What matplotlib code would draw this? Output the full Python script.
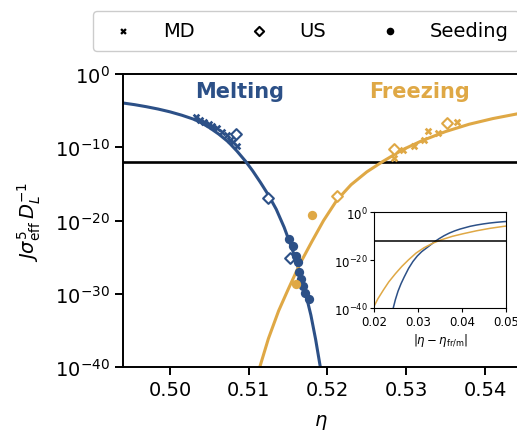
import matplotlib
matplotlib.use("Agg")
import matplotlib.pyplot as plt
import numpy as np

blue = '#2c5087'
orange = '#dfa845'

# theory curves, main panel (eta, log10 of rate)
melt_eta = [0.4940, 0.4955, 0.4970, 0.4985, 0.5000, 0.5015, 0.5030, 0.5038, 0.5050,
            0.5062, 0.5074, 0.5085, 0.5096, 0.5105, 0.5115, 0.5125, 0.5135, 0.5145,
            0.5155, 0.5165, 0.5172, 0.5179, 0.5185, 0.5191, 0.5197]
melt_log = [-3.95, -4.18, -4.46, -4.78, -5.16, -5.62, -6.16, -6.55, -7.3,
            -8.2, -9.25, -10.5, -11.9, -13.2, -14.8, -16.5, -18.45, -20.9,
            -23.8, -27.1, -29.8, -32.9, -36.2, -40.0, -44.1]

freeze_eta = [0.5100, 0.5114, 0.5125, 0.5138, 0.5150, 0.5165, 0.5180, 0.5195, 0.5212,
              0.5230, 0.5250, 0.5270, 0.5295, 0.5320, 0.5350, 0.5380, 0.5410, 0.5450]
freeze_log = [-45.9, -40.0, -36.1, -32.3, -29.4, -25.9, -22.9, -20.0, -17.2,
              -15.1, -13.35, -11.95, -10.35, -9.1, -7.85, -6.85, -6.08, -5.25]

# simulation points
melt_md_eta = [0.5033, 0.5038, 0.5043, 0.5049, 0.5054, 0.5060, 0.5066, 0.5072, 0.5076, 0.5080, 0.5085]
melt_md_log = [-5.9, -6.23, -6.5, -6.8, -7.1, -7.4, -7.95, -8.3, -8.95, -9.3, -9.8]
melt_us_eta = [0.5084, 0.5125, 0.5152]
melt_us_log = [-8.2, -16.95, -25.1]
melt_seed_eta = [0.5151, 0.5156, 0.5160, 0.5163, 0.5164, 0.5166, 0.5169, 0.5172, 0.5176]
melt_seed_log = [-22.5, -23.5, -24.8, -25.6, -27.05, -27.9, -28.9, -29.9, -30.7]

freeze_md_eta = [0.5284, 0.5296, 0.5310, 0.5322, 0.5328, 0.5340, 0.5365]
freeze_md_log = [-11.5, -10.3, -9.8, -9.0, -7.8, -8.0, -6.5]
freeze_us_eta = [0.5212, 0.5284, 0.5352]
freeze_us_log = [-16.6, -10.2, -6.7]
freeze_seed_eta = [0.5180, 0.5160]
freeze_seed_log = [-19.2, -28.7]

threshold = 1e-12

# inset curves vs distance from coexistence
in_melt_d = [0.0243, 0.0248, 0.0254, 0.0261, 0.0268, 0.0278, 0.0288, 0.0298, 0.0308,
             0.0318, 0.0328, 0.0337, 0.0348, 0.0359, 0.0371, 0.0383, 0.0395, 0.0418,
             0.0433, 0.0448, 0.0463, 0.0478, 0.0493, 0.0500]
in_melt_log = [-40.0, -36.4, -32.9, -29.7, -27.0, -23.4, -20.5, -18.2, -16.4,
               -15.0, -13.6, -12.3, -10.95, -9.75, -8.65, -7.75, -7.0, -5.85,
               -5.3, -4.85, -4.47, -4.17, -3.93, -3.83]
in_freeze_d = [0.0183, 0.0197, 0.0208, 0.0221, 0.0233, 0.0248, 0.0263, 0.0278, 0.0295,
               0.0313, 0.0333, 0.0352, 0.0378, 0.0403, 0.0433, 0.0463, 0.0493, 0.0510]
in_freeze_log = [-45.9, -40.0, -36.1, -32.3, -29.0, -25.6, -22.5, -19.8, -17.0,
                 -14.8, -12.9, -11.5, -10.0, -8.9, -7.7, -6.7, -5.9, -5.5]

fig = plt.figure(figsize=(5.17, 4.31), dpi=100)
ax = fig.add_axes([0.2373, 0.1455, 0.7685, 0.6805])

ax.plot(melt_eta, 10.0 ** np.array(melt_log), color=blue, lw=2.2, zorder=2)
ax.plot(freeze_eta, 10.0 ** np.array(freeze_log), color=orange, lw=2.2, zorder=2)
ax.axhline(threshold, color='black', lw=1.9, zorder=1)

ax.scatter(melt_md_eta, 10.0 ** np.array(melt_md_log), marker='X', s=30, color=blue, lw=0, zorder=3)
ax.scatter(melt_us_eta, 10.0 ** np.array(melt_us_log), marker='D', s=30, facecolor='white',
           edgecolor=blue, lw=1.5, zorder=3)
ax.scatter(melt_seed_eta, 10.0 ** np.array(melt_seed_log), marker='o', s=45, color=blue, lw=0, zorder=3)
ax.scatter(freeze_md_eta, 10.0 ** np.array(freeze_md_log), marker='X', s=30, color=orange, lw=0, zorder=3)
ax.scatter(freeze_us_eta, 10.0 ** np.array(freeze_us_log), marker='D', s=30, facecolor='white',
           edgecolor=orange, lw=1.5, zorder=3)
ax.scatter(freeze_seed_eta, 10.0 ** np.array(freeze_seed_log), marker='o', s=45, color=orange, lw=0, zorder=3)

ax.set_yscale('log')
ax.set_ylim(1e-40, 1e0)
ax.set_xlim(0.494, 0.54445)
ax.set_yticks([1e-40, 1e-30, 1e-20, 1e-10, 1e0])
ax.yaxis.set_minor_locator(matplotlib.ticker.NullLocator())
ax.set_xticks([0.50, 0.51, 0.52, 0.53, 0.54])
ax.set_xticklabels(['0.50', '0.51', '0.52', '0.53', '0.54'])
ax.tick_params(labelsize=14, length=6, width=1.4)
for s in ax.spines.values():
    s.set_linewidth(1.4)
ax.spines['right'].set_visible(False)

ax.set_xlabel(r'$\eta$', fontsize=14, labelpad=9)
ax.set_ylabel(r'$J\sigma_{\rm eff}^5\, D_L^{-1}$', fontsize=14, labelpad=8.5)

ax.text(0.295, 0.942, 'Melting', transform=ax.transAxes, color=blue, fontsize=15,
        fontweight='bold', ha='center', va='center')
ax.text(0.746, 0.942, 'Freezing', transform=ax.transAxes, color=orange, fontsize=15,
        fontweight='bold', ha='center', va='center')

# legend with black markers
h1 = ax.scatter([], [], marker='X', s=22, color='black', lw=0)
h2 = ax.scatter([], [], marker='D', s=22, facecolor='white', edgecolor='black', lw=1.5)
h3 = ax.scatter([], [], marker='o', s=30, color='black', lw=0)
fig.legend([h1, h2, h3], ['MD', 'US', 'Seeding'], loc='upper left',
           bbox_to_anchor=(93.3 / 517, 1 - 11.7 / 431), ncol=3, fontsize=14,
           handletextpad=1.05, columnspacing=2.3, borderaxespad=0, borderpad=0.55,
           frameon=True, edgecolor='#cccccc', framealpha=1)

# inset
axin = fig.add_axes([0.724, 0.2824, 0.2547, 0.2227])
axin.plot(in_melt_d, 10.0 ** np.array(in_melt_log), color=blue, lw=1.1)
axin.plot(in_freeze_d, 10.0 ** np.array(in_freeze_log), color=orange, lw=1.1)
axin.axhline(threshold, color='black', lw=1.1)
axin.set_yscale('log')
axin.set_ylim(1e-40, 1e0)
axin.set_xlim(0.02, 0.05)
axin.set_yticks([1e-40, 1e-20, 1e0])
axin.yaxis.set_minor_locator(matplotlib.ticker.NullLocator())
axin.set_xticks([0.02, 0.03, 0.04, 0.05])
axin.set_xticklabels(['0.02', '0.03', '0.04', '0.05'])
axin.tick_params(labelsize=8.5, length=3, width=0.8, pad=2)
axin.set_xlabel(r'$|\eta - \eta_{\rm fr/m}|$', fontsize=8.5, labelpad=2)

fig.savefig('out.png', dpi=100)
